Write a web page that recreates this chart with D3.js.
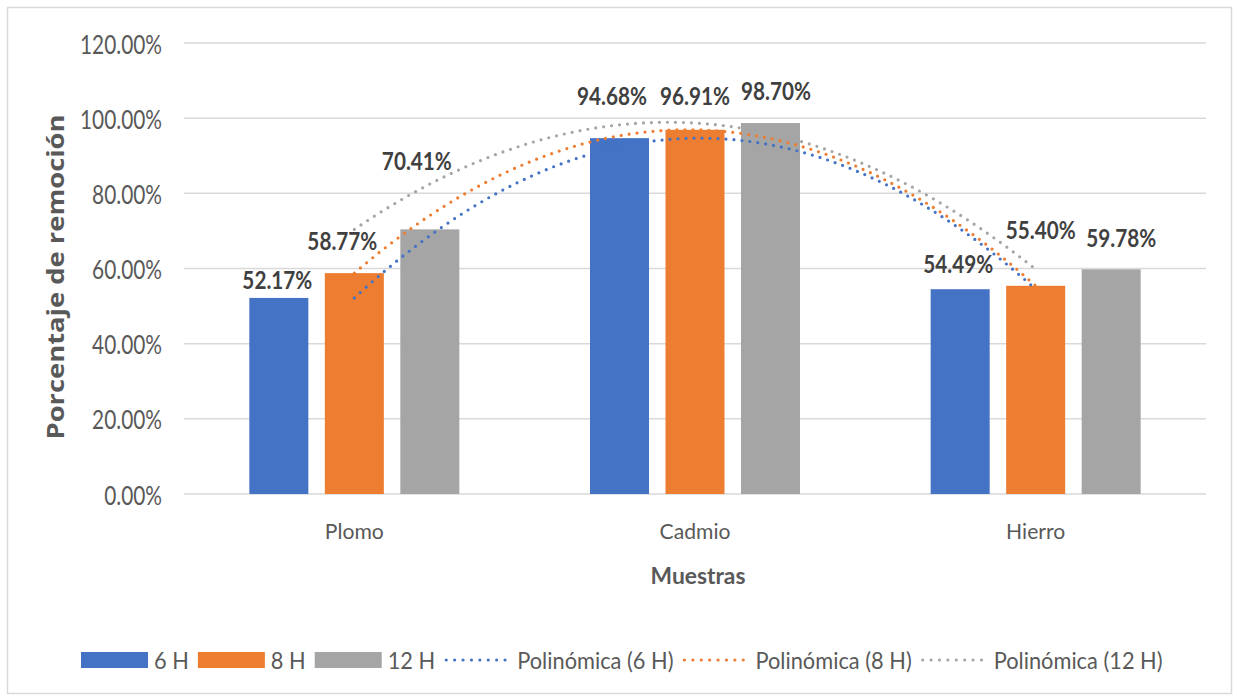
<!DOCTYPE html>
<html>
<head>
<meta charset="utf-8">
<script src="https://cdn.jsdelivr.net/npm/d3@7"></script>
<style>
  html, body { margin: 0; padding: 0; background: #fff; }
  svg { display: block; }
</style>
</head>
<body>
<svg id="chart" width="1237" height="700"></svg>
<script>
// ---------- DATA ----------
const categories = ["Plomo", "Cadmio", "Hierro"];
const seriesNames = ["6 H", "8 H", "12 H"];
const values6H  = [0.5217, 0.9468, 0.5449];
const values8H  = [0.5877, 0.9691, 0.5540];
const values12H = [0.7041, 0.9870, 0.5978];
const yTicks = [0, 0.2, 0.4, 0.6, 0.8, 1.0, 1.2];
const trendNames = ["Polinómica (6 H)", "Polinómica (8 H)", "Polinómica (12 H)"];
const xTitle = "Muestras";
const yTitle = "Porcentaje de remoción";

// ---------- STYLE / LAYOUT ----------
const colors = ["#4472C4", "#ED7D31", "#A5A5A5"];
const seriesValues = [values6H, values8H, values12H];
// manual label nudges [dx, dy] per series per category (like the moved Excel labels)
const labelNudge = [
  [[-1.5, 0], [-7.5, -24], [-2, -7]],
  [[-12, -14], [0, -16], [5, -38]],
  [[-13, -50], [5.5, -14], [10, -13]]
];

const svg = d3.select("#chart");
const plot = { left: 184, right: 1206, top: 43, bottom: 494 };

const fontCal = "Lato, 'Open Sans', sans-serif";
// sample string + its width in the reference -> horizontal scale for each text class
const txt = {
  tick:   { family: fontCal, size: 26.5, weight: 400, sample: "120.00%", target: 82, fill: "#595959" },
  label:  { family: fontCal, size: 25.5, weight: 700, sample: "52.17%", target: 70, fill: "#404040" },
  cat:    { family: fontCal, size: 22, weight: 400, sample: "Plomo", target: 59, fill: "#595959" },
  xtitle: { family: fontCal, size: 22.5, weight: 700, sample: "Muestras", target: 95, fill: "#595959" },
  legend: { family: fontCal, size: 22.5, weight: 400, sample: "Polinómica (12 H)", target: 169, fill: "#595959" }
};

const measure = svg.append("text").attr("x", -1000).attr("y", -1000);
Object.values(txt).forEach(s => {
  measure.style("font-family", s.family).style("font-size", s.size + "px").style("font-weight", s.weight).text(s.sample);
  s.sx = s.target / measure.node().getComputedTextLength();
});
measure.remove();

function addText(parent, cls, str, x, y, anchor, baseline) {
  const s = txt[cls];
  const g = parent.append("g").attr("transform", `translate(${x},${y}) scale(${s.sx},1)`);
  const t = g.append("text")
    .attr("x", 0).attr("y", 0)
    .attr("text-anchor", anchor || "middle")
    .attr("dominant-baseline", baseline || "alphabetic")
    .style("font-family", s.family)
    .style("font-size", s.size + "px")
    .style("font-weight", s.weight)
    .attr("fill", s.fill)
    .text(str);
  return { g, t, width: t.node().getComputedTextLength() * s.sx };
}

// chart border
svg.append("rect")
  .attr("x", 7.5).attr("y", 7.5).attr("width", 1224).attr("height", 686)
  .attr("fill", "#fff").attr("stroke", "#D9D9D9").attr("stroke-width", 1.5);

// scales
const x = d3.scaleBand().domain(categories).range([plot.left, plot.right]).paddingInner(0).paddingOuter(0);
const groupWidth = 210;
const xs = d3.scaleBand().domain(seriesNames).range([0, groupWidth]).paddingInner(0.2185).paddingOuter(0);
const y = d3.scaleLinear().domain([0, 1.2]).range([plot.bottom, plot.top]);

// gridlines
svg.append("g").selectAll("line").data(yTicks).join("line")
  .attr("x1", plot.left).attr("x2", plot.right)
  .attr("y1", d => y(d)).attr("y2", d => y(d))
  .attr("stroke", "#D9D9D9").attr("stroke-width", 1.5);

// y tick labels
const fmt = d3.format(".2%");
const yAxisG = svg.append("g");
yTicks.forEach(v => addText(yAxisG, "tick", fmt(v), 162, y(v), "end", "central"));

// bars
const barsG = svg.append("g");
seriesNames.forEach((s, si) => {
  barsG.append("g").selectAll("rect").data(categories).join("rect")
    .attr("x", c => x(c) + x.bandwidth() / 2 - groupWidth / 2 + xs(s))
    .attr("width", xs.bandwidth())
    .attr("y", (c, ci) => y(seriesValues[si][ci]))
    .attr("height", (c, ci) => y(0) - y(seriesValues[si][ci]))
    .attr("fill", colors[si]);
});

// polynomial (order 2) trendlines through the 3 points, x = 1..3
const xt = d3.scaleLinear().domain([1, 3])
  .range([x(categories[0]) + x.bandwidth() / 2, x(categories[2]) + x.bandwidth() / 2]);
function quadFit(vals) {
  const [a, b, c] = vals;
  return t => a * (t - 2) * (t - 3) / 2 - b * (t - 1) * (t - 3) + c * (t - 1) * (t - 2) / 2;
}
const samples = d3.range(0, 121).map(i => 1 + i / 60);
const line = d3.line().x(d => xt(d[0])).y(d => y(d[1])).curve(d3.curveLinear);
const trendG = svg.append("g");
seriesValues.forEach((vals, si) => {
  const f = quadFit(vals);
  trendG.append("path")
    .attr("d", line(samples.map(t => [t, f(t)])))
    .attr("fill", "none")
    .attr("stroke", colors[si])
    .attr("stroke-width", 3.2)
    .attr("stroke-linecap", "round")
    .attr("stroke-dasharray", "0 8");
});

// data labels
const labelsG = svg.append("g");
seriesNames.forEach((s, si) => {
  categories.forEach((c, ci) => {
    const v = seriesValues[si][ci];
    const cx = x(c) + x.bandwidth() / 2 - groupWidth / 2 + xs(s) + xs.bandwidth() / 2;
    const [dx, dy] = labelNudge[si][ci];
    addText(labelsG, "label", fmt(v), cx + dx, y(v) - 9 + dy, "middle");
  });
});

// category labels
const catG = svg.append("g");
categories.forEach(c => addText(catG, "cat", c, x(c) + x.bandwidth() / 2, 539, "middle"));

// x title
addText(svg, "xtitle", xTitle, 698, 584, "middle");

// y title (rotated)
const yt = svg.append("text")
  .attr("transform", "translate(64,277) rotate(-90)")
  .attr("text-anchor", "middle")
  .style("font-family", "'Open Sans', sans-serif")
  .style("font-size", "23px")
  .style("font-weight", 700)
  .attr("fill", "#595959")
  .text(yTitle);
yt.attr("textLength", 325).attr("lengthAdjust", "spacingAndGlyphs");

// legend
const legG = svg.append("g");
let lx = 81;
const ly = 660;
const legGap = 9;
seriesNames.forEach((s, si) => {
  legG.append("rect").attr("x", lx).attr("y", ly - 8).attr("width", 67).attr("height", 16).attr("fill", colors[si]);
  lx += 67 + 6;
  const r = addText(legG, "legend", s, lx, ly, "start", "central");
  lx += r.width + legGap;
});
trendNames.forEach((s, si) => {
  legG.append("line").attr("x1", lx + 2).attr("x2", lx + 67).attr("y1", ly).attr("y2", ly)
    .attr("stroke", colors[si]).attr("stroke-width", 3.2)
    .attr("stroke-linecap", "round").attr("stroke-dasharray", "0 8.4");
  lx += 67 + 6;
  const r = addText(legG, "legend", s, lx, ly, "start", "central");
  lx += r.width + legGap;
});
</script>
</body>
</html>
